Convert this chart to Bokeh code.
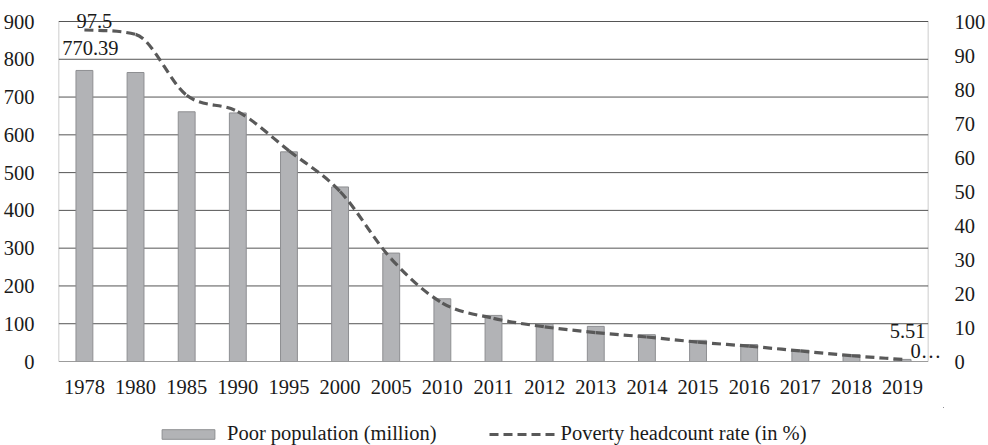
from bokeh.plotting import figure
from bokeh.layouts import column
from bokeh.models import (Range1d, FactorRange, LinearAxis, FixedTicker, Legend,
                          LegendItem, LabelSet, ColumnDataSource, BoxAnnotation)
from bokeh.embed import file_html
from bokeh.resources import INLINE

# ---- data -------------------------------------------------------------
years = ["1978", "1980", "1985", "1990", "1995", "2000", "2005", "2010", "2011",
         "2012", "2013", "2014", "2015", "2016", "2017", "2018", "2019"]
poor_population = [770.39, 765, 661, 658, 555, 462, 287, 166, 122,
                   99, 93, 71, 56, 45, 30, 18, 5.51]          # million
headcount_rate = [97.5, 96.2, 78.3, 73.5, 62, 50, 30.2, 17.2, 12.7,
                  10.2, 8.5, 7.2, 5.7, 4.5, 3.1, 1.7, 0.6]     # per cent
left_ticks = list(range(0, 901, 100))
right_ticks = list(range(0, 101, 10))
pop_max, rate_max = 900, 100

FONT = "Liberation Serif"
FS = "20.5px"
TXT = "#1a1a1a"
GRID = "#555555"
LINE = "#595959"
BAR_FILL, BAR_EDGE = "#b2b3b6", "#8e8f92"

# frame geometry (px): a little head-room above the top gridline so the
# value labels near the top are not cut off
H_MAIN, TOP_BORDER, BOTTOM_BORDER, HEADROOM = 407, 6, 46, 15
frame_h = H_MAIN - TOP_BORDER - BOTTOM_BORDER
scale = frame_h / (frame_h - HEADROOM)

n = len(years)
p = figure(width=988, height=H_MAIN, output_backend="svg", toolbar_location=None,
           x_range=FactorRange(*years, range_padding=0.3, range_padding_units="absolute"),
           y_range=Range1d(0, pop_max * scale),
           min_border_left=43, min_border_right=43, min_border_top=TOP_BORDER,
           min_border_bottom=BOTTOM_BORDER)
p.extra_y_ranges = {"rate": Range1d(0, rate_max * scale)}
p.outline_line_color = None
p.grid.visible = False

# horizontal gridlines and the plot box, spanning exactly the 17 categories
p.segment(x0=[0] * len(left_ticks), x1=[n] * len(left_ticks), y0=left_ticks,
          y1=left_ticks, line_color=GRID, line_width=1, level="underlay")
p.add_layout(BoxAnnotation(left=0, right=n, bottom=0, top=pop_max, fill_alpha=0,
                           line_color=GRID, line_width=1, level="underlay"))

# bars: poor population
p.vbar(x=years, top=poor_population, width=0.33,
       fill_color=BAR_FILL, line_color=BAR_EDGE, line_width=1)

# smooth (monotone cubic) headcount-rate curve, one segment per pair of years
xc = [i + 0.5 for i in range(n)]
sec = [headcount_rate[i + 1] - headcount_rate[i] for i in range(n - 1)]
tan = [sec[0]] + [(sec[i - 1] + sec[i]) / 2 if sec[i - 1] * sec[i] > 0 else 0.0
                  for i in range(1, n - 1)] + [sec[-1]]
for i in range(n - 1):
    if sec[i] == 0:
        tan[i] = tan[i + 1] = 0.0
        continue
    a, b = tan[i] / sec[i], tan[i + 1] / sec[i]
    if a * a + b * b > 9:
        t = 3 / (a * a + b * b) ** 0.5
        tan[i], tan[i + 1] = t * a * sec[i], t * b * sec[i]
seg = dict(x0=xc[:-1], y0=headcount_rate[:-1], x1=xc[1:], y1=headcount_rate[1:],
           cx0=[x + 1 / 3 for x in xc[:-1]],
           cy0=[headcount_rate[i] + tan[i] / 3 for i in range(n - 1)],
           cx1=[x - 1 / 3 for x in xc[1:]],
           cy1=[headcount_rate[i + 1] - tan[i + 1] / 3 for i in range(n - 1)])
p.bezier(x0="x0", y0="y0", x1="x1", y1="y1", cx0="cx0", cy0="cy0",
         cx1="cx1", cy1="cy1", source=ColumnDataSource(seg),
         y_range_name="rate", line_color=LINE, line_width=3.2, line_dash="9 5")

# axes
for ax in (p.xaxis[0], p.yaxis[0]):
    ax.axis_line_color = None
    ax.major_tick_line_color = None
    ax.minor_tick_line_color = None
    ax.major_label_text_font = FONT
    ax.major_label_text_font_size = FS
    ax.major_label_text_color = TXT
p.yaxis[0].ticker = FixedTicker(ticks=left_ticks)
p.yaxis[0].major_label_standoff = 3
p.xaxis[0].major_label_standoff = 12

right = LinearAxis(y_range_name="rate", ticker=FixedTicker(ticks=right_ticks))
right.axis_line_color = None
right.major_tick_line_color = None
right.minor_tick_line_color = None
right.major_label_text_font = FONT
right.major_label_text_font_size = FS
right.major_label_text_color = TXT
right.major_label_standoff = 5
p.add_layout(right, "right")

# value labels
bar_lbl = ColumnDataSource(dict(
    x=[years[0], years[-1]],
    y=[poor_population[0], poor_population[-1]],
    text=[f"{poor_population[0]:.2f}", f"{poor_population[-1]:.2f}"],
    dx=[6, 5], dy=[15, 21]))
p.add_layout(LabelSet(x="x", y="y", text="text", source=bar_lbl,
                      x_offset="dx", y_offset="dy", text_align="center",
                      text_baseline="bottom", text_font=FONT,
                      text_font_size=FS, text_color=TXT))

rate_lbl = ColumnDataSource(dict(
    x=[years[0], years[-1]],
    y=[headcount_rate[0], headcount_rate[-1]],
    text=[f"{headcount_rate[0]}", f"{headcount_rate[-1]}"[:1] + "\u2026"],
    dx=[10, 8], dy=[2, -3], align=["center", "left"]))
p.add_layout(LabelSet(x="x", y="y", text="text", source=rate_lbl,
                      y_range_name="rate", x_offset="dx", y_offset="dy",
                      text_align="align", text_baseline="bottom",
                      text_font=FONT, text_font_size=FS, text_color=TXT))

# legend strip under the chart: same series, drawn outside the visible ranges
leg = figure(width=988, height=445 - H_MAIN, output_backend="svg",
             toolbar_location=None, x_axis_location=None, y_axis_location=None,
             x_range=Range1d(-2, -1), y_range=Range1d(-2, -1),
             min_border_left=0, min_border_right=0, min_border_top=0,
             min_border_bottom=0, outline_line_color=None)
leg.grid.visible = False
sw_bar = leg.vbar(x=xc, top=poor_population, width=0.33,
                  fill_color=BAR_FILL, line_color=BAR_EDGE, line_width=1)
sw_line = leg.line(x=xc, y=headcount_rate, line_color=LINE, line_width=3.2,
                   line_dash="9 5")
legend = Legend(items=[LegendItem(label="Poor population (million)", renderers=[sw_bar]),
                       LegendItem(label="Poverty headcount rate (in %)", renderers=[sw_line])],
                orientation="horizontal", location=(112, 0),
                glyph_width=66, glyph_height=12, label_standoff=6, spacing=52,
                padding=0, margin=0, border_line_color=None,
                background_fill_alpha=0, label_text_font=FONT,
                label_text_font_size=FS, label_text_color=TXT)
leg.add_layout(legend, "center")

open("out.html", "w").write(file_html(column(p, leg), INLINE))
